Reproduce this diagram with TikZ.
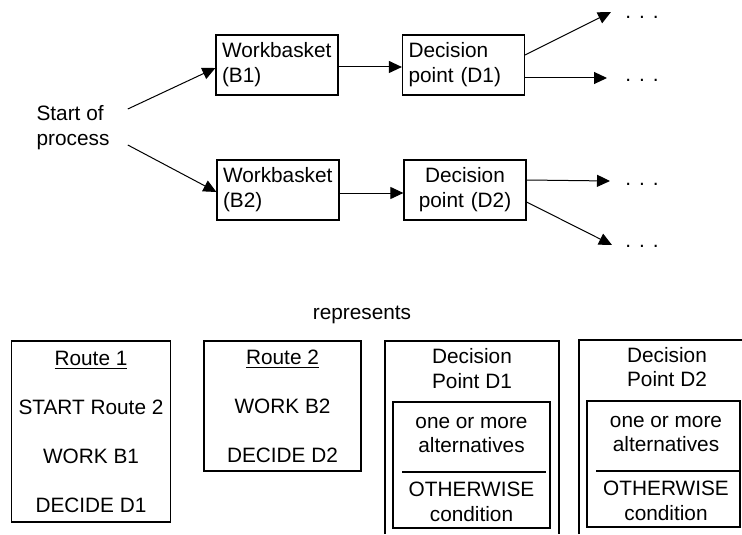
\documentclass[tikz,border=0pt]{standalone}
\usepackage{fontspec}
\setmainfont{Liberation Sans}
\usetikzlibrary{arrows.meta,positioning}
\tikzset{
  box/.style={draw, line width=.6pt, text width=55pt, inner xsep=3pt, minimum height=30pt, align=left},
  flow/.style={line width=.5pt, -{Triangle[length=6.5pt,width=6pt]}},
  more/.style={inner sep=0pt, anchor=base west},
  frame/.style={line width=.6pt},
}
\newcommand{\moredots}{.\hspace{4pt}.\hspace{4pt}.}
\begin{document}
\begin{tikzpicture}[x=.5pt,y=-.5pt,font=\fontsize{10.4}{12.4}\selectfont]
\useasboundingbox (0,0) rectangle (742,534);
\node (start) at (73,128) [align=left, inner xsep=9pt] {Start of\\process};
\node (b1) at (277,65) [box] {Workbasket\\(B1)};
\node (b2) at (278,190) [box] {Workbasket\\(B2)};
\node (d1) at (463.5,65) [box] {Decision\\point (D1)};
\node (d2) at (465,190) [box, align=center] {Decision\\point (D2)};
\coordinate (t1) at (611,12);
\coordinate (t2) at (607,78);
\coordinate (t3) at (610,181);
\coordinate (t4) at (612,245);
\node (m1) at (625,19) [more] {\moredots};
\node (m2) at (625,82) [more] {\moredots};
\node (m3) at (625,185) [more] {\moredots};
\node (m4) at (625,247) [more] {\moredots};

\draw[flow]
([yshift=9.5pt]start.east) to ([yshift=-1.5pt]b1.west);
\draw[flow]
([yshift=-8.5pt]start.east) to ([yshift=-1pt]b2.west);
\draw[flow] ([yshift=-1pt]b1.east) to ([yshift=-1pt]d1.west);
\draw[flow] ([yshift=-1.5pt]b2.east) to ([yshift=-1.5pt]d2.west);
\draw[flow] ([yshift=5pt]d1.east) to (t1);
\draw[flow] ([yshift=-6.5pt]d1.east) to (t2);
\draw[flow] ([yshift=5pt]d2.east) to (t3);
\draw[flow] ([yshift=-6pt]d2.east) to (t4);

% what the routes are written as
\node (repr) at (362,315) {represents};
\node (r1) at (91,431.5) [draw, line width=.6pt, minimum width=79pt, minimum height=90.5pt, align=center]
{\underline{Route 1}\\[12.1pt]START Route 2\\[12.1pt]WORK B1\\[12.1pt]DECIDE D1};
\node (r2) at (282.5,406) [draw, line width=.6pt, minimum width=78.5pt, minimum height=65pt, align=center]
{\underline{Route 2}\\[12.1pt]WORK B2\\[12.1pt]DECIDE D2};

\draw[frame] (385,534) |- (559,341) -- (559,534);
\node (h1) at (472,368.5) [align=center] {Decision\\Point D1};
\node (i1) at (471.5,465) [draw, line width=.6pt, minimum width=78.5pt, minimum height=63pt] {};
\node (a1) at (471.5,435) [align=center] {one or more\\alternatives};
\node (o1) at (471.5,502) [align=center] {OTHERWISE\\condition};
\draw[frame] (402,472) -- (546,472);

\draw[frame] (579,534) |- (742,340);
\node (h2) at (667,367) [align=center] {Decision\\Point D2};
\node (i2) at (663.5,464) [draw, line width=.6pt, minimum width=76.5pt, minimum height=63pt] {};
\node (a2) at (666,434) [align=center] {one or more\\alternatives};
\node (o2) at (666,501) [align=center] {OTHERWISE\\condition};
\draw[frame] (596,471) -- (741,471);
\end{tikzpicture}
\end{document}
